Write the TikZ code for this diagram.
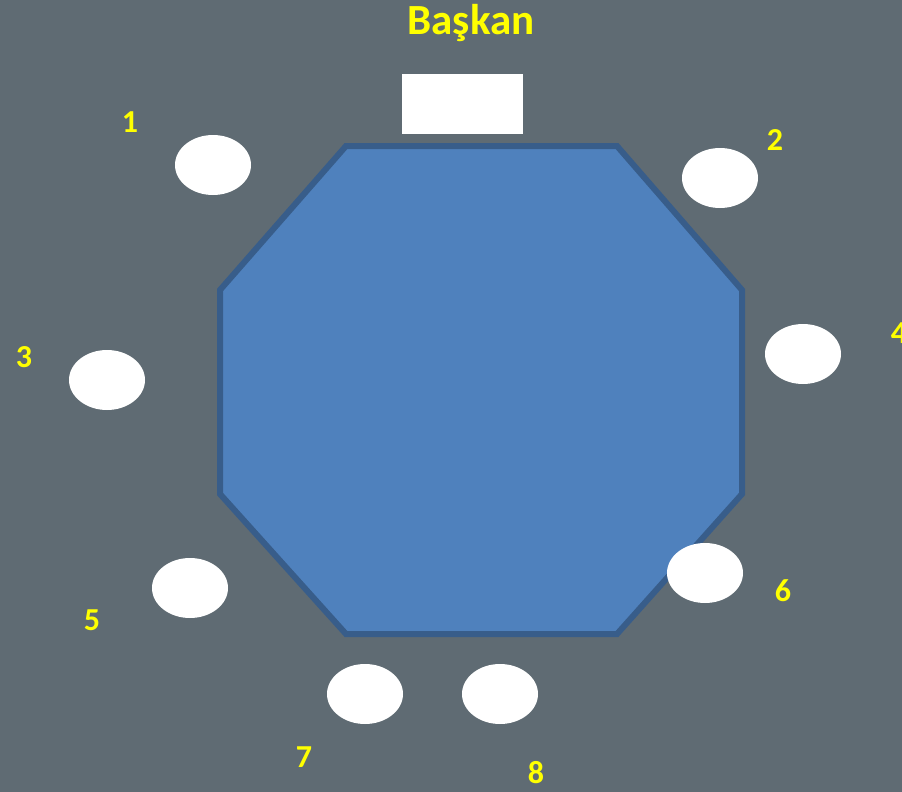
\documentclass[tikz,border=0pt]{standalone}
\usepackage{fontspec}
\setmainfont{Carlito}
\usetikzlibrary{shapes.geometric, positioning}

\definecolor{bgGray}{RGB}{95,107,115}
\definecolor{tableFill}{RGB}{79,129,189}
\definecolor{tableEdge}{RGB}{56,93,138}
\definecolor{labelYellow}{RGB}{255,255,0}

\begin{document}
\begin{tikzpicture}[
    x=1pt, y=-1pt,
    seat/.style={ellipse, fill=white, minimum width=76pt, minimum height=60pt, inner sep=0pt},
    chair/.style={rectangle, fill=white, minimum width=121pt, minimum height=60pt, inner sep=0pt},
    seatlabel/.style={text=labelYellow, font=\fontsize{32}{36}\selectfont\bfseries, inner sep=0pt},
    titlelabel/.style={text=labelYellow, font=\fontsize{43}{48}\selectfont\bfseries, inner sep=0pt}
]
\useasboundingbox (0,0) rectangle (902,792);
\clip (0,0) rectangle (902,792);
\fill [bgGray] (0,0) rectangle (902,792);

% table
\draw [tableEdge, fill=tableFill, line width=6pt, line join=miter]
    (346,146) -- (617,146) -- (742,290) -- (742,494) -- (617,634)
    -- (346,634) -- (220,494) -- (220,290) -- cycle;

% chairman
\node (chair) [chair] at (462.5,104) {};
\node (baskan) [titlelabel] at (471,23) {Başkan};

% seats
\node (seat1) [seat] at (213,165) {};
\node (seat2) [seat] at (720,178) {};
\node (seat3) [seat] at (107,380) {};
\node (seat4) [seat] at (803,354) {};
\node (seat5) [seat] at (190,588) {};
\node (seat6) [seat] at (705,573) {};
\node (seat7) [seat] at (365,694) {};
\node (seat8) [seat] at (500,694) {};

\node (lab1) [seatlabel] at (130,122) {1};
\node (lab2) [seatlabel] at (775,140) {2};
\node (lab3) [seatlabel] at (24,357) {3};
\node (lab4) [seatlabel] at (899,333) {4};
\node (lab5) [seatlabel] at (92,620) {5};
\node (lab6) [seatlabel] at (783,591) {6};
\node (lab7) [seatlabel] at (304,757) {7};
\node (lab8) [seatlabel] at (536,773) {8};
\end{tikzpicture}
\end{document}
